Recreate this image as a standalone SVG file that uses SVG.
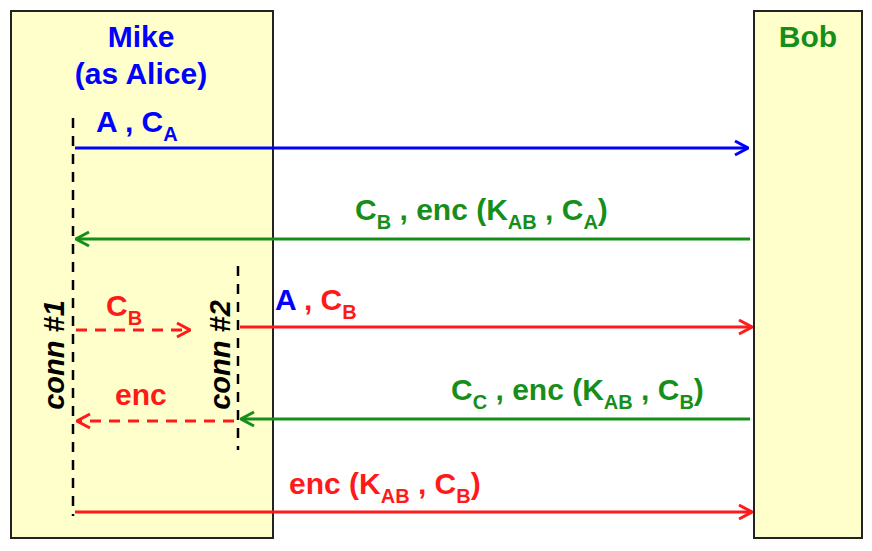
<svg xmlns="http://www.w3.org/2000/svg" width="872" height="551" viewBox="0 0 872 551">
<style>
text{font-family:"Liberation Sans",Arial,sans-serif;font-weight:bold;font-size:30px}
.b{fill:#0000ff}.g{fill:#168f1a}.r{fill:#ff1a1a}.k{fill:#000;font-style:italic;font-size:29px}
.s{font-size:20px}
.box{fill:#ffffcc;stroke:#222;stroke-width:2}
.ll{stroke:#000;stroke-width:2.5;stroke-dasharray:10 8;fill:none}
</style>
<defs>
<marker id="hb" viewBox="0 0 16 18" refX="15" refY="9" markerWidth="16" markerHeight="18" markerUnits="userSpaceOnUse" orient="auto"><path d="M2,2 L15,9 L2,16" fill="none" stroke="#0000ff" stroke-width="3"/></marker>
<marker id="hg" viewBox="0 0 16 18" refX="15" refY="9" markerWidth="16" markerHeight="18" markerUnits="userSpaceOnUse" orient="auto"><path d="M2,2 L15,9 L2,16" fill="none" stroke="#168f1a" stroke-width="3"/></marker>
<marker id="hr" viewBox="0 0 16 18" refX="15" refY="9" markerWidth="16" markerHeight="18" markerUnits="userSpaceOnUse" orient="auto"><path d="M2,2 L15,9 L2,16" fill="none" stroke="#ff1a1a" stroke-width="3"/></marker>
</defs>
<g id="mike">
<rect class="box" x="11" y="11" width="262" height="527"/>
<text class="b" x="141" y="47" text-anchor="middle">Mike</text>
<text class="b" x="141" y="84" text-anchor="middle">(as Alice)</text>
</g>
<g id="bob">
<rect class="box" x="754" y="11" width="108" height="527"/>
<text class="g" x="808" y="47" text-anchor="middle">Bob</text>
</g>
<g id="conn1">
<line class="ll" x1="73" y1="118" x2="73" y2="516"/>
<text class="k" transform="translate(64,355) rotate(-90)" text-anchor="middle">conn #1</text>
</g>
<g id="conn2">
<line class="ll" x1="238" y1="266" x2="238" y2="450"/>
<text class="k" transform="translate(230,355) rotate(-90)" text-anchor="middle">conn #2</text>
</g>
<g id="connectors" fill="none" stroke-width="3">
<line x1="75" y1="148" x2="748" y2="148" stroke="#0000ff" marker-end="url(#hb)"/>
<line x1="750" y1="239" x2="76" y2="239" stroke="#168f1a" marker-end="url(#hg)"/>
<line x1="240" y1="327" x2="752" y2="327" stroke="#ff1a1a" marker-end="url(#hr)"/>
<line x1="750" y1="419" x2="241" y2="419" stroke="#168f1a" marker-end="url(#hg)"/>
<line x1="75" y1="512" x2="752" y2="512" stroke="#ff1a1a" marker-end="url(#hr)"/>
<line x1="76" y1="330" x2="190" y2="330" stroke="#ff1a1a" stroke-dasharray="11 8" marker-end="url(#hr)"/>
<line x1="234" y1="421" x2="77" y2="421" stroke="#ff1a1a" stroke-dasharray="11 8" marker-end="url(#hr)"/>
</g>
<g id="labels">
<text class="b" x="96" y="132">A , C<tspan class="s" dy="9">A</tspan></text>
<text class="g" x="355" y="220">C<tspan class="s" dy="9">B</tspan><tspan dy="-9"> , enc (K</tspan><tspan class="s" dy="9">AB</tspan><tspan dy="-9"> , C</tspan><tspan class="s" dy="9">A</tspan><tspan dy="-9">)</tspan></text>
<text x="275" y="310"><tspan class="b">A</tspan><tspan class="r"> , C</tspan><tspan class="r s" dy="9">B</tspan></text>
<text class="g" x="451" y="400">C<tspan class="s" dy="9">C</tspan><tspan dy="-9"> , enc (K</tspan><tspan class="s" dy="9">AB</tspan><tspan dy="-9"> , C</tspan><tspan class="s" dy="9">B</tspan><tspan dy="-9">)</tspan></text>
<text class="r" x="289" y="494">enc (K<tspan class="s" dy="9">AB</tspan><tspan dy="-9"> , C</tspan><tspan class="s" dy="9">B</tspan><tspan dy="-9">)</tspan></text>
<text class="r" x="106" y="316">C<tspan class="s" dy="9">B</tspan></text>
<text class="r" x="115" y="405">enc</text>
</g>
</svg>
